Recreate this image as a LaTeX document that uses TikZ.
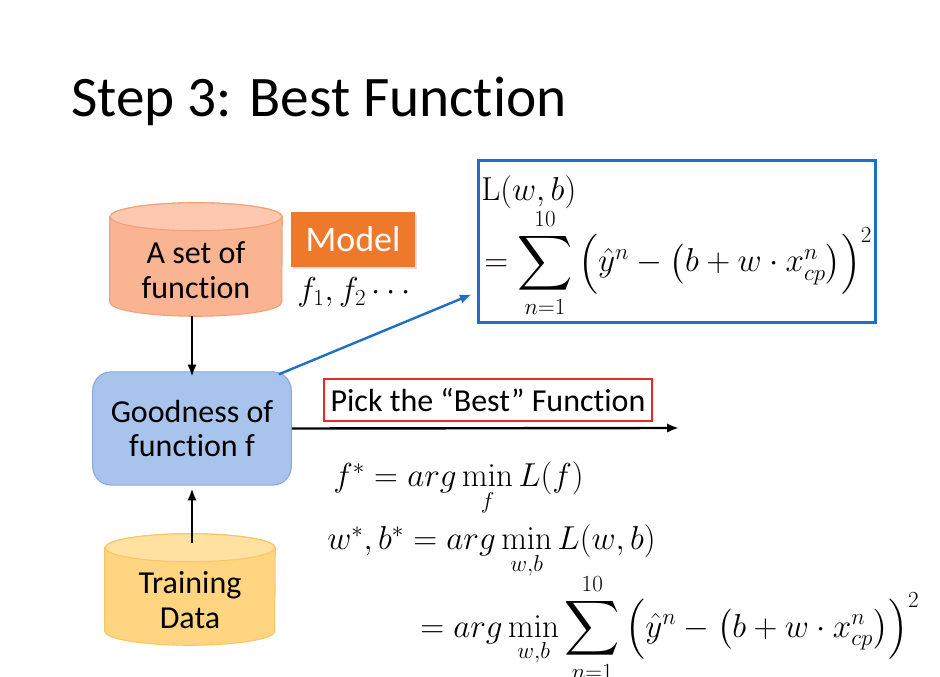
\documentclass[tikz,border=0pt]{standalone}
\usepackage{graphicx,amsmath,amssymb}
\usepackage[no-math]{fontspec}
\setmainfont{Carlito}[Ligatures={NoCommon}]
\usepackage{tikz}
\usetikzlibrary{calc,arrows.meta,backgrounds}

\definecolor{cylorange}{RGB}{250,180,146}
\definecolor{cylorangetop}{RGB}{252,200,176}
\definecolor{cylorangeedge}{RGB}{244,160,116}
\definecolor{cylgold}{RGB}{255,213,130}
\definecolor{cylgoldtop}{RGB}{255,226,162}
\definecolor{cylgoldedge}{RGB}{250,198,96}
\definecolor{modelorange}{RGB}{239,121,42}
\definecolor{goodblue}{RGB}{168,195,236}
\definecolor{goodblueedge}{RGB}{140,168,214}
\definecolor{lossblue}{RGB}{30,112,196}
\definecolor{pickred}{RGB}{232,40,38}

\newcommand{\bigsum}{\mathop{\vcenter{\hbox{\scalebox{1.15}{$\displaystyle\sum$}}}}\limits}

\begin{document}
\begin{tikzpicture}[x=0.75pt,y=-0.75pt,
	txt/.style={font=\fontsize{24}{26}\selectfont, align=center},
	cylnode/.style={txt, minimum width=129pt, inner sep=0pt},
	mth/.style={font=\fontsize{25}{30}\selectfont, inner sep=0pt},
	arr/.style={-{Latex[length=9pt,width=7pt]}, line width=1.8pt}]
	\useasboundingbox (0,0) rectangle (940,677);

	% title
	\node[anchor=base west, inner sep=0pt, font=\fontsize{43}{50}\selectfont] (title) at (71,117) {Step 3: Best Function};

	% the two cylinders
	\node[cylnode, minimum height=69pt] (funcset) at (196,270) {A set of\\function};
	\node[cylnode, minimum height=67.5pt, minimum width=127.5pt] (traindata) at (190,600) {Training\\Data};
	\begin{scope}[on background layer]
	\fill[white] (0,0) rectangle (940,677);
	\foreach \c/\r/\fc/\tc/\dc in {funcset/86/cylorange/cylorangetop/cylorangeedge,
		traindata/85/cylgold/cylgoldtop/cylgoldedge}{
		\path[fill=\fc, draw=\dc, line width=0.8pt]
			($(\c.north west)+(0,-7)$) -- ($(\c.south west)+(0,-14)$)
			arc[start angle=180, end angle=0, x radius=\r, y radius=14]
			-- ($(\c.north east)+(0,-7)$)
			arc[start angle=0, end angle=-180, x radius=\r, y radius=14] -- cycle;
		\path[fill=\tc, draw=\dc, line width=0.8pt]
			($(\c.north)+(0,-7)$) ellipse[x radius=\r, y radius=14];
	}
	\end{scope}

	% model tag
	\fill[black!12] (293,215) rectangle (417,269);
	\node[txt, fill=modelorange, text=white, minimum width=93pt, minimum height=41pt,
		inner sep=0pt, font=\fontsize{27}{30}\selectfont] (model) at (353,239.5) {Model};
	\node[mth, anchor=base west] (flist) at (297,301) {$f_1, f_2\cdots$};

	% goodness box
	\node[txt, draw=goodblueedge, fill=goodblue, rounded corners=14pt, line width=0.8pt,
		minimum width=149pt, minimum height=85pt] (goodness) at (192,428.5) {Goodness of\\function f};

	% loss box
	\node[draw=lossblue, line width=2.2pt, minimum width=298pt, minimum height=122pt] (lossbox) at (677,241.5) {};
	\node[mth, anchor=base west] (losshead) at (481,201) {$\mathrm{L}(w,b)$};
	\node[mth, anchor=base west] (losssum) at (484,272)
		{$=\bigsum_{n=1}^{10}\Big(\hat{y}^n-\big(b+w\cdot x^n_{cp}\big)\Big)^2$};

	% pick the best
	\node[txt, draw=pickred, line width=1.8pt, minimum width=246pt, minimum height=31.5pt,
		inner sep=0pt] (pickbox) at (488,400) {Pick the “Best” Function};
	\coordinate (pickend) at (679,428);

	% connectors
	\draw[arr] (funcset.south -| goodness.north) -- ([yshift=-4pt]goodness.north);
	\draw[arr] ($(traindata.north -| goodness.south)+(0,-12)$) -- ([yshift=-2pt]goodness.south);
	\draw[arr] (goodness.east) -- (pickend);
	\draw[-{Latex[length=9pt,width=7pt]}, line width=1.8pt, lossblue]
		($(goodness.north east)+(-13,3)$) -- ($(lossbox.south west)+(-5,-30)$);

	% best function formulas
	\node[mth, anchor=base west] (fstar) at (333,487) {$f^* = arg\min\limits_f L(f)$};
	\node[mth, anchor=base west] (wbstar) at (327,550) {$w^*, b^* = arg\min\limits_{w,b} L(w,b)$};
	\node[mth, anchor=base west] (wbsum) at (420,637)
		{$= arg\min\limits_{w,b}\bigsum_{n=1}^{10}\Big(\hat{y}^n-\big(b+w\cdot x^n_{cp}\big)\Big)^2$};
\end{tikzpicture}
\end{document}
